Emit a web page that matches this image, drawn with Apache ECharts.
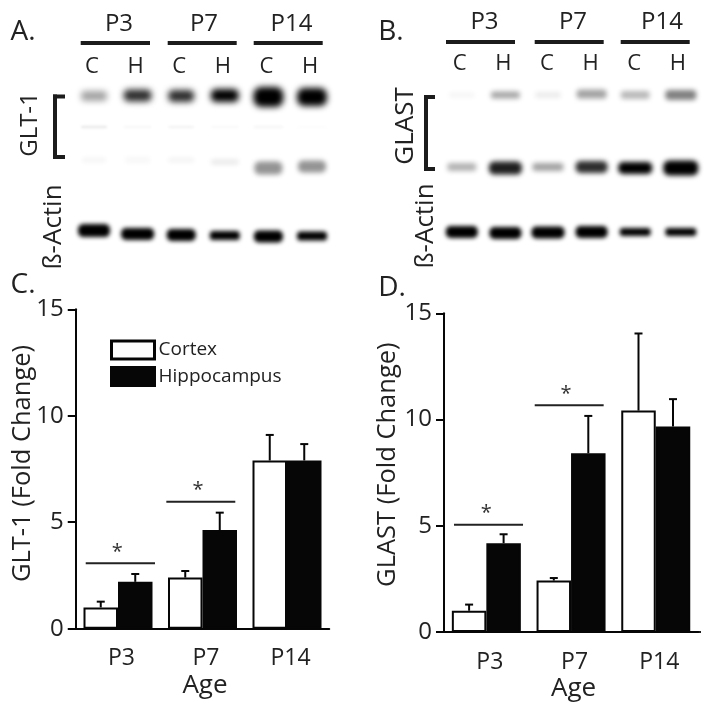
<!DOCTYPE html>
<html><head><meta charset="utf-8">
<style>html,body{margin:0;padding:0;background:#fff}#c{width:714px;height:709px}</style>
<script src="https://cdn.jsdelivr.net/npm/echarts@6/dist/echarts.min.js"></script>
</head><body><div id="c"></div>
<script>
// ---- data ----
const ageGroups = ['P3', 'P7', 'P14'];
const laneLabels = ['C', 'H', 'C', 'H', 'C', 'H'];
const yTicks = [0, 5, 10, 15];

const glt1Cortex = [1.0, 2.4, 7.9];
const glt1CortexErrTop = [1.27, 2.71, 9.1];
const glt1Hippo = [2.2, 4.63, 7.9];
const glt1HippoErrTop = [2.57, 5.45, 8.67];
const glt1SigLevel = [3.07, 5.96];

const glastCortex = [1.0, 2.42, 10.42];
const glastCortexErrTop = [1.29, 2.54, 14.05];
const glastHippo = [4.18, 8.41, 9.67];
const glastHippoErrTop = [4.6, 10.17, 10.96];
const glastSigLevel = [5.05, 10.67];

// blot band darkness per lane (0 = none, 1 = black)
const glt1UpperBand = [0.36, 0.82, 0.82, 1, 1, 1];
const glt1MiddleBand = [0.11, 0.04, 0.06, 0.03, 0.03, 0.01];
const glt1LowerBand = [0.05, 0.03, 0.06, 0.09, 0.42, 0.42];
const actinABand = [1, 1, 1, 1, 1, 1];
const glastUpperBand = [0.05, 0.35, 0.08, 0.36, 0.28, 0.5];
const glastLowerBand = [0.3, 0.88, 0.36, 0.82, 1, 1];
const actinBBand = [1, 1, 1, 1, 1, 1];

// ---- layout / style ----
const FONT = '"Open Sans", "Noto Sans", sans-serif';
const INK = '#222222';
const BLACK = '#060606';
const panelC = {left: 75.75, top: 309.3, width: 253.5, height: 319.4};
const panelD = {left: 444, top: 313.3, width: 254.1, height: 318.7};
const blotA = {left: 72.2, top: 80, width: 261.6, height: 170};
const blotB = {left: 440, top: 80, width: 261.6, height: 170};
const BAR_W = 34.5;
const sigXC = [[-0.382, 0.438, -0.008], [0.572, 1.388, 0.947]];
const sigXD = [[-0.382, 0.433, -0.001], [0.571, 1.385, 0.94]];

const blotRowsA = [
  {vals: glt1UpperBand, y: [16, 15.5, 16, 15.5, 17, 17], h: [10, 12, 12, 13, 20, 18], w: [26, 28, 26, 28, 30, 30], blur: 6},
  {vals: glt1MiddleBand, y: [47, 47, 47, 47, 47, 47], h: [2, 2, 2, 2, 3, 2], w: [26, 28, 26, 28, 30, 30], blur: 3},
  {vals: glt1LowerBand, y: [80, 80, 80, 82, 88, 86.5], h: [4, 6, 4, 5, 13, 12], w: [24, 26, 26, 28, 28, 28], blur: 5},
  {vals: actinABand, y: [150.5, 154, 155, 155.5, 156.5, 156], h: [13, 12, 12, 9, 12, 9], w: [32, 33, 29, 30, 29, 30], blur: 4}
];
const blotRowsB = [
  {vals: glastUpperBand, y: [15, 15, 15, 14, 15, 15], h: [4, 7, 6, 9, 8, 10], w: [26, 29, 26, 30, 29, 31], blur: 5},
  {vals: glastLowerBand, y: [87, 88, 87, 87, 88, 88], h: [8, 13, 8, 12, 12, 15], w: [29, 33, 31, 32, 34, 35], blur: 5},
  {vals: actinBBand, y: [152, 153, 152.5, 152, 152, 152], h: [12, 12, 12, 12, 8, 8], w: [32, 32, 33, 32, 31, 31], blur: 4}
];
const laneShiftB = [0, 0, -1, -1, -1, 1];

// ---- render helpers ----
function errorSeries(name, top, base, xIdx, yIdx, side) {
  return {
    type: 'custom', name, xAxisIndex: xIdx, yAxisIndex: yIdx, z: 5, silent: true,
    data: top.map((t, i) => [i, t, base[i]]),
    renderItem(params, api) {
      const a = api.coord([api.value(0), api.value(1)]);
      const b = api.coord([api.value(0), api.value(2)]);
      const x = a[0] + side * BAR_W / 2;
      const st = {stroke: BLACK, lineWidth: 2};
      return {type: 'group', children: [
        {type: 'line', shape: {x1: x, y1: a[1], x2: x, y2: b[1]}, style: st},
        {type: 'line', shape: {x1: x - 4, y1: a[1], x2: x + 4, y2: a[1]}, style: st}
      ]};
    }
  };
}
function sigSeries(levels, xs, xIdx, yIdx) {
  return {
    type: 'custom', xAxisIndex: xIdx, yAxisIndex: yIdx, z: 6, silent: true,
    data: levels.map((v, i) => [xs[i][0], xs[i][1], xs[i][2], v]),
    renderItem(params, api) {
      const a = api.coord([api.value(0), api.value(3)]);
      const b = api.coord([api.value(1), api.value(3)]);
      const s = api.coord([api.value(2), api.value(3)]);
      return {type: 'group', children: [
        {type: 'line', shape: {x1: a[0], y1: a[1], x2: b[0], y2: b[1]}, style: {stroke: '#222', lineWidth: 2}},
        {type: 'text', x: s[0], y: s[1] - 11, style: {text: '*', fill: '#333', font: '20px ' + FONT, align: 'center', verticalAlign: 'middle', textAlign: 'center', textVerticalAlign: 'middle'}}
      ]};
    }
  };
}
function blotSeries(rows, xIdx, yIdx, shift) {
  const data = [];
  rows.forEach((r, ri) => r.vals.forEach((v, lane) => data.push([lane, r.y[lane], v, ri])));
  const OFF = 2000;
  return {
    type: 'custom', xAxisIndex: xIdx, yAxisIndex: yIdx, silent: true, clip: false, z: 1,
    data,
    renderItem(params, api) {
      const lane = api.value(0), row = rows[api.value(3)];
      const c = api.coord([lane, api.value(1)]);
      const dark = api.value(2);
      const g = Math.round(255 * (1 - dark));
      const col = 'rgb(' + g + ',' + g + ',' + g + ')';
      const w = row.w[lane], h = row.h[lane];
      const cx = c[0] + (shift ? shift[lane] : 0);
      return {type: 'rect',
        shape: {x: cx - w / 2 - OFF, y: c[1] - h / 2, width: w, height: h, r: h / 2.5},
        style: {fill: col, shadowColor: col, shadowBlur: row.blur, shadowOffsetX: OFF}
      };
    }
  };
}
function catAxis(gridIndex, labelPad, margin) {
  return {
    type: 'category', gridIndex, data: ageGroups,
    axisLine: {lineStyle: {color: BLACK, width: 2}},
    axisTick: {alignWithLabel: true, length: 8, lineStyle: {color: BLACK, width: 2}},
    axisLabel: {color: INK, fontFamily: FONT, fontSize: 23, margin, padding: [0, 0, 0, labelPad]},
    name: 'Age', nameLocation: 'middle', nameGap: 44,
    nameTextStyle: {color: INK, fontFamily: FONT, fontSize: 26, padding: [0, 0, 0, 5]}
  };
}
function hiddenX(gridIndex) {
  return {type: 'value', gridIndex, min: -0.5, max: 2.5, show: false};
}
function valAxis(gridIndex, name, gap, shift) {
  return {
    type: 'value', gridIndex, min: 0, max: 15, interval: 5,
    axisLine: {show: true, onZero: false, lineStyle: {color: BLACK, width: 2}},
    axisTick: {show: true, length: 8, lineStyle: {color: BLACK, width: 2}},
    axisLabel: {color: INK, fontFamily: FONT, fontSize: 24, margin: 12,
      formatter: v => yTicks.includes(v) ? String(v) : ''},
    splitLine: {show: false},
    name, nameLocation: 'middle', nameGap: gap, nameMoveOverlap: false,
    nameTextStyle: {color: INK, fontFamily: FONT, fontSize: 25.5, padding: [0, 0, 0, shift]}
  };
}
function laneAxis(gridIndex, pad, margin) {
  return {
    type: 'category', gridIndex, position: 'top', data: laneLabels,
    axisLine: {show: false}, axisTick: {show: false},
    axisLabel: {color: INK, fontFamily: FONT, fontSize: 22, margin, interval: 0, padding: [0, pad, 0, 0]}
  };
}
function hiddenY(gridIndex) {
  return {type: 'value', gridIndex, min: 0, max: 170, inverse: true, show: false};
}
function bars(name, vals, xIdx, yIdx, filled) {
  return {
    type: 'bar', name, data: vals, xAxisIndex: xIdx, yAxisIndex: yIdx,
    barWidth: BAR_W, barGap: 0, z: 3, silent: true,
    itemStyle: {color: filled ? BLACK : '#fff', borderColor: BLACK, borderWidth: 2}
  };
}
function label(text, x, y, size, rot) {
  return {type: 'text', x, y, rotation: rot ? Math.PI / 2 : 0, silent: true,
    style: {text, fill: INK, font: size + 'px ' + FONT, align: 'center', verticalAlign: 'middle', textAlign: 'center', textVerticalAlign: 'middle'}};
}
function bar(x, y, w, h) {
  return {type: 'rect', silent: true, shape: {x, y, width: w, height: h}, style: {fill: '#1c1c1c'}};
}

const graphics = [
  label('A.', 23, 32, 28), label('B.', 391, 32, 28), label('C.', 23, 285, 28), label('D.', 392, 288, 28),
  label('P3', 119, 24, 24), label('P7', 204, 24, 24), label('P14', 291.5, 24, 24),
  label('P3', 484.5, 22, 24), label('P7', 573, 22, 24), label('P14', 662, 22, 24),
  bar(80.7, 41, 69.3, 4), bar(167.7, 41, 69, 4), bar(253.7, 41, 69, 4),
  bar(446, 40, 69, 4), bar(534.7, 40, 69, 4), bar(620.7, 40, 69, 4),
  bar(53, 94.5, 4, 64), bar(53, 94.5, 12, 4), bar(53, 155, 12, 4),
  bar(424, 95, 4, 75), bar(424, 95, 11, 4), bar(424, 167, 11, 4),
  label('GLT-1', 30, 124.5, 24, true), label('ß-Actin', 54, 227, 26, true),
  label('GLAST', 406, 126, 26, true), label('ß-Actin', 426, 226, 26, true),
  bar(697, 631, 4, 2)
];

const option = {
  backgroundColor: '#fff',
  animation: false,
  grid: [panelC, panelD, blotA, blotB],
  legend: {
    show: true, orient: 'vertical', left: 110, top: 339.5, itemWidth: 43, itemHeight: 18, itemGap: 5.5,
    data: [{name: 'Cortex', icon: 'rect'}, {name: 'Hippocampus', icon: 'rect'}],
    selectedMode: false, padding: 0, itemStyle: {borderWidth: 3},
    textStyle: {color: INK, fontFamily: FONT, fontSize: 19, padding: [0, 0, 0, -1]}
  },
  xAxis: [catAxis(0, 7, 18), hiddenX(0), catAxis(1, 7, 19), hiddenX(1), laneAxis(2, 4, 2), laneAxis(3, 4, 5)],
  yAxis: [valAxis(0, 'GLT-1 (Fold Change)', 40, 11), valAxis(1, 'GLAST (Fold Change)', 43, 16), hiddenY(2), hiddenY(3)],
  graphic: graphics,
  series: [
    blotSeries(blotRowsA, 4, 2),
    blotSeries(blotRowsB, 5, 3, laneShiftB),
    bars('Cortex', glt1Cortex, 0, 0, false),
    bars('Hippocampus', glt1Hippo, 0, 0, true),
    errorSeries('e1', glt1CortexErrTop, glt1Cortex, 0, 0, -1),
    errorSeries('e2', glt1HippoErrTop, glt1Hippo, 0, 0, 1),
    sigSeries(glt1SigLevel, sigXC, 1, 0),
    bars('Cortex', glastCortex, 2, 1, false),
    bars('Hippocampus', glastHippo, 2, 1, true),
    errorSeries('e3', glastCortexErrTop, glastCortex, 2, 1, -1),
    errorSeries('e4', glastHippoErrTop, glastHippo, 2, 1, 1),
    sigSeries(glastSigLevel, sigXD, 3, 1)
  ]
};
echarts.init(document.getElementById('c'), null, {renderer: 'canvas'}).setOption(option);
</script></body></html>
